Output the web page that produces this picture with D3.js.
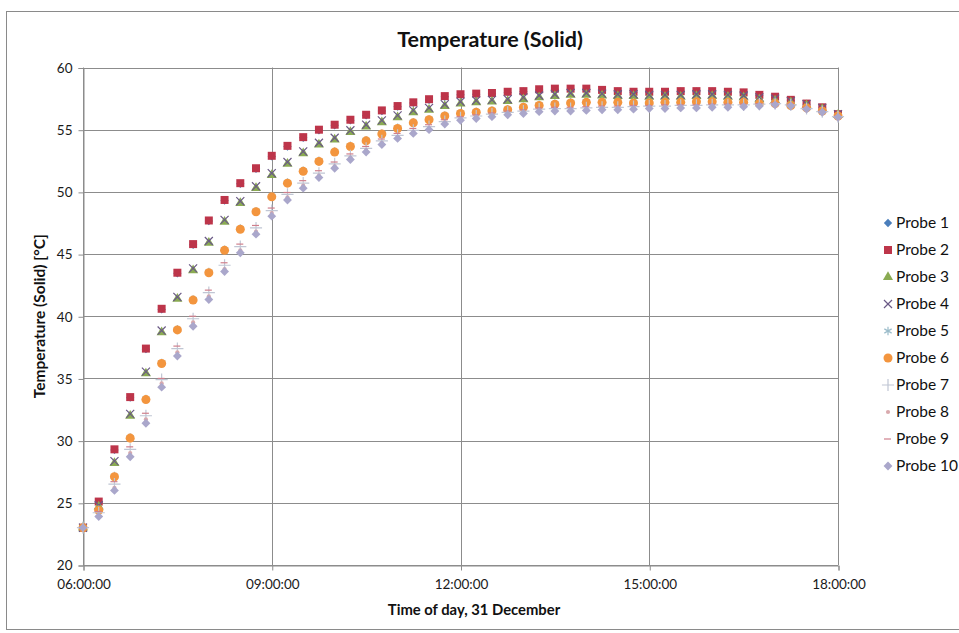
<!DOCTYPE html>
<html>
<head>
<meta charset="utf-8">
<script src="https://cdn.jsdelivr.net/npm/d3@7"></script>
<style>
  html, body { margin: 0; padding: 0; background: #fff; }
  svg { display: block; font-family: Lato, "Open Sans", sans-serif; }
</style>
</head>
<body>
<svg id="chart" width="959" height="633"></svg>
<script>
// Sampling times (every 15 minutes, 06:00 – 18:00)
const times = [
  "06:00","06:15","06:30","06:45","07:00","07:15","07:30","07:45",
  "08:00","08:15","08:30","08:45","09:00","09:15","09:30","09:45",
  "10:00","10:15","10:30","10:45","11:00","11:15","11:30","11:45",
  "12:00","12:15","12:30","12:45","13:00","13:15","13:30","13:45",
  "14:00","14:15","14:30","14:45","15:00","15:15","15:30","15:45",
  "16:00","16:15","16:30","16:45","17:00","17:15","17:30","17:45","18:00"
];

// Solid temperature per probe [°C]
const probe1 = [23.0,25.05,29.25,33.45,37.35,40.55,43.45,45.75,47.65,49.3,50.65,51.85,52.85,53.65,54.35,54.95,55.35,55.75,56.15,56.5,56.85,57.15,57.4,57.65,57.8,57.85,57.9,58.0,58.05,58.2,58.25,58.25,58.25,58.15,58.05,58.0,58.0,58.0,58.05,58.05,58.05,58.0,57.95,57.75,57.6,57.35,57.05,56.75,56.2];
const probe2 = [23.0,25.1,29.3,33.5,37.4,40.6,43.5,45.8,47.7,49.35,50.7,51.9,52.9,53.7,54.4,55.0,55.4,55.8,56.2,56.55,56.9,57.2,57.45,57.7,57.85,57.9,57.95,58.05,58.1,58.25,58.3,58.3,58.3,58.2,58.1,58.05,58.05,58.05,58.1,58.1,58.1,58.05,58.0,57.8,57.65,57.4,57.1,56.8,56.25];
const probe3 = [23.0,24.7,28.2,32.0,35.4,38.7,41.4,43.7,45.9,47.6,49.1,50.3,51.35,52.25,53.1,53.8,54.2,54.8,55.25,55.6,56.0,56.4,56.6,56.9,57.1,57.2,57.25,57.3,57.45,57.6,57.7,57.8,57.8,57.75,57.7,57.7,57.65,57.65,57.65,57.7,57.7,57.65,57.6,57.45,57.35,57.2,56.95,56.65,56.2];
const probe4 = [23.0,24.8,28.35,32.15,35.55,38.85,41.55,43.85,46.05,47.75,49.25,50.45,51.5,52.4,53.25,53.95,54.35,54.95,55.4,55.75,56.15,56.55,56.75,57.05,57.25,57.35,57.4,57.45,57.6,57.75,57.85,57.95,57.95,57.9,57.85,57.85,57.8,57.8,57.8,57.85,57.85,57.8,57.75,57.6,57.5,57.3,57.05,56.75,56.25];
const probe5 = [23.0,24.45,27.15,30.25,33.35,36.25,38.95,41.35,43.55,45.35,47.05,48.45,49.65,50.75,51.7,52.5,53.25,53.7,54.15,54.7,55.15,55.6,55.85,56.15,56.35,56.45,56.55,56.65,56.85,57.0,57.1,57.2,57.25,57.25,57.25,57.2,57.2,57.25,57.25,57.3,57.3,57.25,57.25,57.15,57.15,57.0,56.8,56.55,56.15];
const probe6 = [23.0,24.4,27.1,30.2,33.3,36.2,38.9,41.3,43.5,45.3,47.0,48.4,49.6,50.7,51.65,52.45,53.2,53.65,54.1,54.65,55.1,55.55,55.8,56.1,56.3,56.4,56.5,56.6,56.8,56.95,57.05,57.15,57.2,57.2,57.2,57.15,57.15,57.2,57.2,57.25,57.25,57.2,57.2,57.1,57.1,56.95,56.75,56.5,56.1];
const probe7 = [23.0,24.2,26.5,29.3,32.0,34.9,37.4,39.8,41.9,44.1,45.6,47.1,48.5,49.8,50.7,51.5,52.25,52.9,53.5,54.1,54.55,54.95,55.25,55.65,55.95,56.1,56.25,56.4,56.5,56.65,56.7,56.7,56.75,56.8,56.8,56.85,56.9,56.9,56.95,56.95,57.0,57.0,57.0,57.05,57.1,57.0,56.7,56.45,56.05];
const probe8 = [23.0,24.0,26.2,29.0,31.7,34.6,37.1,39.5,41.6,43.8,45.3,46.8,48.3,49.55,50.5,51.3,52.05,52.75,53.35,53.95,54.4,54.8,55.1,55.55,55.85,56.0,56.15,56.3,56.4,56.55,56.6,56.6,56.65,56.7,56.7,56.75,56.8,56.8,56.85,56.85,56.9,56.9,56.9,56.95,57.05,56.95,56.7,56.45,56.05];
const probe9 = [23.0,24.3,26.7,29.5,32.2,35.0,37.6,40.0,42.1,44.3,45.8,47.3,48.7,49.95,50.9,51.7,52.4,53.05,53.65,54.25,54.7,55.1,55.4,55.8,56.05,56.2,56.35,56.5,56.6,56.75,56.8,56.8,56.85,56.9,56.9,56.95,56.95,57.0,57.0,57.0,57.05,57.05,57.05,57.1,57.15,57.05,56.8,56.5,56.1];
const probe10 = [23.0,23.9,26.0,28.7,31.4,34.3,36.8,39.2,41.35,43.6,45.1,46.6,48.05,49.35,50.3,51.15,51.9,52.6,53.2,53.8,54.3,54.7,55.0,55.45,55.75,55.9,56.05,56.2,56.3,56.45,56.5,56.5,56.55,56.6,56.6,56.65,56.7,56.7,56.75,56.75,56.8,56.8,56.85,56.9,57.0,56.9,56.65,56.4,56.0];

const probeNames = ["Probe 1","Probe 2","Probe 3","Probe 4","Probe 5","Probe 6","Probe 7","Probe 8","Probe 9","Probe 10"];
const xTickLabels = ["06:00:00","09:00:00","12:00:00","15:00:00","18:00:00"];
const yTicks = [20,25,30,35,40,45,50,55,60];

const seriesValues = [probe1,probe2,probe3,probe4,probe5,probe6,probe7,probe8,probe9,probe10];

// Marker look for each probe
const markerStyle = [
  {type: d3.symbolDiamond2, size: 44, fill: "#4a7ebb", stroke: null},
  {type: d3.symbolSquare,   size: 64, fill: "#bd354a", stroke: null},
  {type: d3.symbolTriangle, size: 44, fill: "#8aab52", stroke: null},
  {type: d3.symbolTimes,    size: 44, fill: "none",    stroke: "#6b5a86"},
  {type: d3.symbolAsterisk, size: 50, fill: "none",    stroke: "#9bbcca"},
  {type: d3.symbolCircle,   size: 64, fill: "#f3953e", stroke: null},
  {type: d3.symbolPlus,     size: 50, fill: "none",    stroke: "#c0c6d4"},
  {type: d3.symbolCircle,   size: 14, fill: "#d9a9ad", stroke: null},
  {type: "dash",            size: 0,  fill: "none",    stroke: "#cf7f8c"},
  {type: d3.symbolDiamond2, size: 50, fill: "#aaa7cb", stroke: null}
];

const parseTime = d3.timeParse("%H:%M");
const timeOf = s => parseTime(s);

const plot = {left: 83, right: 838, top: 67.5, bottom: 565};

const svg = d3.select("#chart");

// Chart frame
svg.append("rect")
  .attr("x", 6.5).attr("y", 11.5)
  .attr("width", 960).attr("height", 618)
  .attr("fill", "#fff").attr("stroke", "#8a8a8a").attr("stroke-width", 1);

const x = d3.scaleTime()
  .domain([parseTime("06:00"), parseTime("18:00")])
  .range([plot.left, plot.right]);

const y = d3.scaleLinear()
  .domain([20, 60])
  .range([plot.bottom, plot.top]);

const gridColor = "#8c8c8c";
const xTickTimes = xTickLabels.map(s => d3.timeParse("%H:%M:%S")(s));

// Horizontal gridlines
svg.append("g")
  .selectAll("line")
  .data(yTicks)
  .join("line")
  .attr("x1", plot.left).attr("x2", plot.right)
  .attr("y1", d => Math.round(y(d)) + 0.5).attr("y2", d => Math.round(y(d)) + 0.5)
  .attr("stroke", gridColor).attr("stroke-width", 1);

// Vertical gridlines
svg.append("g")
  .selectAll("line")
  .data(xTickTimes)
  .join("line")
  .attr("x1", d => Math.round(x(d)) + 0.5).attr("x2", d => Math.round(x(d)) + 0.5)
  .attr("y1", plot.top).attr("y2", plot.bottom)
  .attr("stroke", gridColor).attr("stroke-width", 1);

// Y axis
const yAxis = d3.axisLeft(y).tickValues(yTicks).tickSize(5).tickPadding(6).tickFormat(d3.format("d"));
const gy = svg.append("g")
  .attr("transform", `translate(${plot.left + 0.5},0.5)`)
  .call(yAxis);
gy.select(".domain").attr("stroke", gridColor);
gy.selectAll(".tick line").attr("stroke", gridColor);
gy.selectAll(".tick text")
  .attr("font-family", "Lato, sans-serif").attr("font-size", 13.5).attr("fill", "#1a1a1a");

// X axis
const xAxis = d3.axisBottom(x).tickValues(xTickTimes).tickSize(5).tickPadding(9)
  .tickFormat((d, i) => xTickLabels[i]);
const gx = svg.append("g")
  .attr("transform", `translate(0.5,${Math.round(plot.bottom) + 0.5})`)
  .call(xAxis);
gx.select(".domain").attr("stroke", gridColor);
gx.selectAll(".tick line").attr("stroke", gridColor);
gx.selectAll(".tick text")
  .attr("font-family", "Lato, sans-serif").attr("font-size", 13.5).attr("fill", "#1a1a1a");

// Marker path generator
function markerPath(st) {
  if (st.type === "dash") return "M-4,0H3";
  return d3.symbol().type(st.type).size(st.size)();
}

// Series markers
seriesValues.forEach((vals, si) => {
  const st = markerStyle[si];
  svg.append("g")
    .attr("class", "series")
    .selectAll("path")
    .data(vals.map((v, i) => ({t: timeOf(times[i]), v})))
    .join("path")
    .attr("transform", d => `translate(${x(d.t)},${y(d.v)})`)
    .attr("d", markerPath(st))
    .attr("fill", st.fill)
    .attr("stroke", st.stroke || "none")
    .attr("stroke-width", st.stroke ? 1.2 : 0);
});

// Title
svg.append("text")
  .attr("x", 490).attr("y", 47)
  .attr("text-anchor", "middle")
  .attr("font-family", "Lato, sans-serif")
  .attr("font-weight", "bold").attr("font-size", 21.5)
  .attr("fill", "#111")
  .text("Temperature (Solid)");

// Axis titles
svg.append("text")
  .attr("transform", `translate(45,${(plot.top + plot.bottom) / 2}) rotate(-90)`)
  .attr("text-anchor", "middle")
  .attr("font-family", "Lato, sans-serif")
  .attr("font-weight", "bold").attr("font-size", 15.5)
  .attr("fill", "#111")
  .text("Temperature (Solid) [°C]");

svg.append("text")
  .attr("x", 474).attr("y", 615)
  .attr("text-anchor", "middle")
  .attr("font-family", "Lato, sans-serif")
  .attr("font-weight", "bold").attr("font-size", 14.8)
  .attr("fill", "#111")
  .text("Time of day, 31 December");

// Legend
const legend = svg.append("g").attr("transform", "translate(888,223)");
const rows = legend.selectAll("g")
  .data(probeNames)
  .join("g")
  .attr("transform", (d, i) => `translate(0,${i * 27})`);
rows.append("path")
  .attr("d", (d, i) => markerPath(markerStyle[i]))
  .attr("fill", (d, i) => markerStyle[i].fill)
  .attr("stroke", (d, i) => markerStyle[i].stroke || "none")
  .attr("stroke-width", (d, i) => markerStyle[i].stroke ? 1.2 : 0);
rows.append("text")
  .attr("x", 8).attr("y", 5)
  .attr("font-family", "Lato, sans-serif").attr("font-size", 15.5)
  .attr("fill", "#111")
  .text(d => d);
</script>
</body>
</html>
